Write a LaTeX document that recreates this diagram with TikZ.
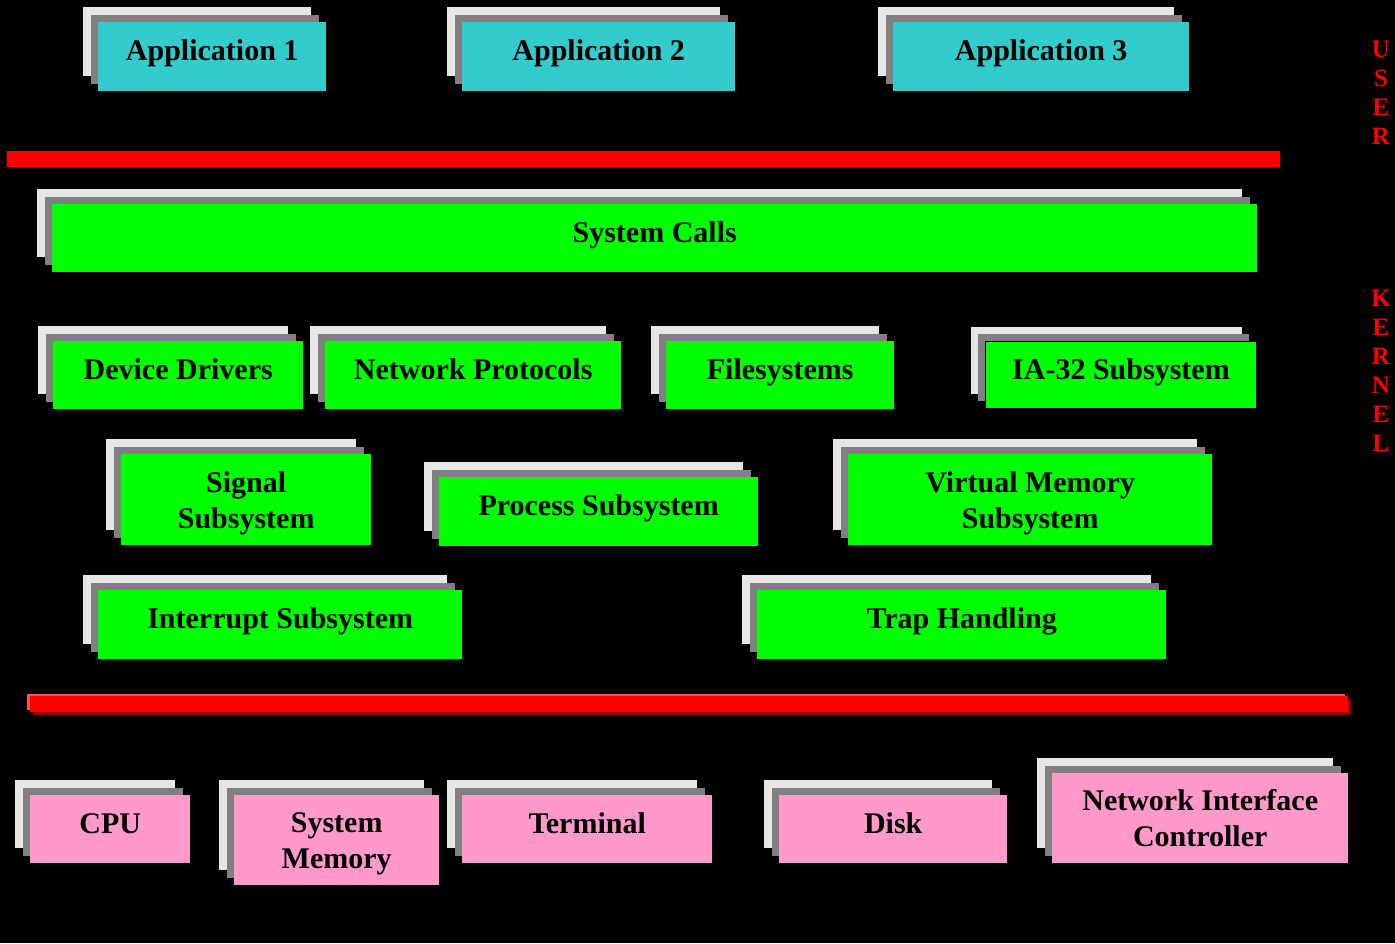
\documentclass[tikz,border=0pt]{standalone}
\usepackage{fontspec}
\setmainfont{Liberation Serif}
\usetikzlibrary{shadows}
\definecolor{appcyan}{HTML}{33CCCC}
\definecolor{kgreen}{HTML}{00FF00}
\definecolor{hwpink}{HTML}{FF99CC}
\definecolor{layerlight}{HTML}{E6E6E6}
\definecolor{layerdark}{HTML}{808080}
\definecolor{barred}{HTML}{FF0000}
\definecolor{barlight}{HTML}{FF5050}
\definecolor{bardark}{HTML}{A00000}
\tikzset{
  stacked/.style={
    rectangle, anchor=north west, inner sep=0pt, align=center,
    font=\bfseries\fontsize{30}{36}\selectfont, text=black,
    text height=22pt, text depth=14pt,
    general shadow={shadow xshift=-15pt, shadow yshift=15pt, fill=layerlight},
    general shadow={shadow xshift=-7.5pt, shadow yshift=7.5pt, fill=layerdark}},
  tworow/.style={text height=58pt, text depth=1pt},
  appbox/.style={stacked, fill=appcyan},
  kbox/.style={stacked, fill=kgreen},
  hwbox/.style={stacked, fill=hwpink},
  sidelabel/.style={text=barred, align=center, inner sep=0pt,
    font=\bfseries\fontsize{25}{29}\selectfont},
  barnode/.style={rectangle, anchor=north west, inner sep=0pt, minimum height=16pt}
}
\begin{document}
\begin{tikzpicture}[x=1pt,y=-1pt]
  \fill[black] (0,0) rectangle (1395,943);
  \useasboundingbox (0,0) rectangle (1395,943);

  % user applications
  \node[appbox, minimum width=228pt, minimum height=69pt] (app1) at (98,22) {Application 1};
  \node[appbox, minimum width=273pt, minimum height=69pt] (app2) at (462,22) {Application 2};
  \node[appbox, minimum width=296pt, minimum height=69pt] (app3) at (893,22) {Application 3};

  % user / kernel boundary
  \node[barnode, fill=barred, minimum width=1273pt] (userline) at (7,151) {};

  % kernel
  \node[kbox, minimum width=1205pt, minimum height=68pt] (syscalls) at (52,204) {System Calls};
  \node[kbox, minimum width=250pt, minimum height=68pt] (drivers) at (53,341) {Device Drivers};
  \node[kbox, minimum width=296pt, minimum height=68pt] (netproto) at (325,341) {Network Protocols};
  \node[kbox, minimum width=228pt, minimum height=68pt] (fs) at (666,341) {Filesystems};
  \node[kbox, draw=black, line width=1pt, minimum width=271pt, minimum height=67pt] (ia32) at (985,341) {IA-32 Subsystem};
  \node[kbox, tworow, minimum width=250pt, minimum height=91pt] (signal) at (121,454) {Signal\\Subsystem};
  \node[kbox, minimum width=319pt, minimum height=69pt] (process) at (439,477) {Process Subsystem};
  \node[kbox, tworow, minimum width=364pt, minimum height=91pt] (vm) at (848,454) {Virtual Memory\\Subsystem};
  \node[kbox, minimum width=364pt, minimum height=69pt] (interrupt) at (98,590) {Interrupt Subsystem};
  \node[kbox, minimum width=409pt, minimum height=69pt] (trap) at (757,590) {Trap Handling};

  % kernel / hardware boundary (raised bar)
  \node[barnode, fill=bardark, minimum width=1318pt] (hwshade) at (33,699) {};
  \node[barnode, fill=barlight, minimum width=1318pt] (hwlight) at (27,694) {};
  \node[barnode, fill=barred, minimum width=1318pt] (hwline) at (30,696) {};

  % hardware
  \node[hwbox, minimum width=160pt, minimum height=68pt] (cpu) at (30,795) {CPU};
  \node[hwbox, tworow, minimum width=205pt, minimum height=90pt] (mem) at (234,795) {System\\Memory};
  \node[hwbox, minimum width=250pt, minimum height=68pt] (term) at (462,795) {Terminal};
  \node[hwbox, minimum width=228pt, minimum height=68pt] (disk) at (779,795) {Disk};
  \node[hwbox, tworow, minimum width=296pt, minimum height=90pt] (nic) at (1052,773) {Network Interface\\Controller};

  % side labels
  \node[sidelabel] (userlbl) at (1381,92.5) {U\\S\\E\\R};
  \node[sidelabel] (kernlbl) at (1381,370.5) {K\\E\\R\\N\\E\\L};
\end{tikzpicture}
\end{document}
